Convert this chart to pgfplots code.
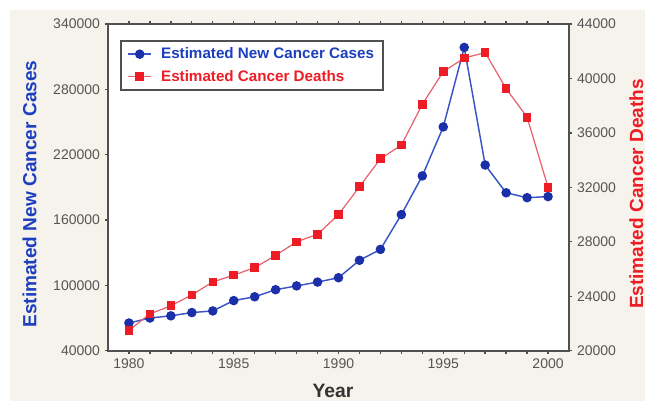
\documentclass[border=0pt]{standalone}
\usepackage{fontspec}
\setmainfont{Liberation Sans}
\usepackage{pgfplots}
\pgfplotsset{compat=1.18}
\definecolor{bgc}{HTML}{F6F3EC}
\definecolor{bluel}{HTML}{3A55C8}
\definecolor{bluem}{HTML}{1B2FA8}
\definecolor{redl}{HTML}{E8606A}
\definecolor{redm}{HTML}{EE1C25}
\definecolor{ylab}{HTML}{1C3FBF}
\definecolor{rlab}{HTML}{EE1C25}
\definecolor{axc}{HTML}{505050}
\definecolor{tickc}{HTML}{555555}
\begin{document}
\begin{tikzpicture}[x=0.75pt,y=0.75pt]
\fill[white] (0,0) rectangle (645,-401);
\fill[bgc] (10,-10) rectangle (645,-401);
\begin{axis}[
  at={(81pt,-18pt)}, anchor=north west,
  scale only axis, width=345.75pt, height=245pt,
  xmin=1979, xmax=2001, ymin=40000, ymax=340000,
  xtick={1980,1985,...,2000}, minor xtick={1980,...,2000},
  ytick={40000,100000,160000,220000,280000,340000},
  tick align=outside, major tick length=2.5pt, minor tick length=2.5pt,
  ytick pos=left,
  scaled y ticks=false,
  yticklabel style={/pgf/number format/fixed,/pgf/number format/1000 sep={}},
  xticklabel style={/pgf/number format/1000 sep={}},
  /pgf/number format/assume math mode=true,
  ticklabel style={font=\fontsize{10.5}{12}\selectfont, text=tickc},
  axis line style={axc, line width=1.5pt},
  tick style={axc, line width=1pt},
  axis background/.style={fill=white},
  legend cell align=left,
  legend image code/.code={\draw[mark repeat=2,mark phase=2] plot coordinates {(0pt,0pt) (8.5pt,0pt) (17pt,0pt)};},
  legend style={at={(0.026,0.951)}, anchor=north west, draw=axc, line width=1.5pt, fill=white,
     font=\bfseries\fontsize{11.4}{13}\selectfont, row sep=3pt, column sep=5pt, inner xsep=5pt, inner ysep=3pt},
]
\addplot[color=bluel, line width=1.1pt, mark=*, mark size=3pt, mark options={fill=bluem, draw=bluem}]
coordinates {
(1980,65400) (1981,70000) (1982,72000) (1983,75000) (1984,76500)
(1985,86000) (1986,89500) (1987,96000) (1988,99500) (1989,103000)
(1990,107000) (1991,123000) (1992,133000) (1993,165000) (1994,200500)
(1995,245500) (1996,318500) (1997,210500) (1998,185000) (1999,180500) (2000,181500)
};
\addlegendentry{\textcolor{ylab}{Estimated New Cancer Cases}}
\addlegendimage{color=redl, line width=0.9pt, mark=square*, mark size=2.75pt, mark options={fill=redm, draw=redm}}
\addlegendentry{\textcolor{rlab}{Estimated Cancer Deaths}}
\end{axis}
\begin{axis}[
  at={(81pt,-18pt)}, anchor=north west,
  scale only axis, width=345.75pt, height=245pt,
  xmin=1979, xmax=2001, ymin=20000, ymax=44000,
  axis x line=none, axis y line*=right,
  ytick={20000,24000,...,44000},
  tick align=outside, major tick length=2.5pt,
  scaled y ticks=false,
  yticklabel style={/pgf/number format/fixed,/pgf/number format/1000 sep={}},
  /pgf/number format/assume math mode=true,
  ticklabel style={font=\fontsize{10.5}{12}\selectfont, text=tickc},
  axis line style={axc, line width=1.5pt, -},
  tick style={axc, line width=1pt},
]
\addplot[color=redl, line width=0.9pt, mark=square*, mark size=2.75pt, mark options={fill=redm, draw=redm}]
coordinates {
(1980,21500) (1981,22700) (1982,23300) (1983,24100) (1984,25050)
(1985,25550) (1986,26100) (1987,27000) (1988,28000) (1989,28550)
(1990,30000) (1991,32050) (1992,34100) (1993,35100) (1994,38100)
(1995,40500) (1996,41500) (1997,41900) (1998,39250) (1999,37150) (2000,32000)
};
\end{axis}
\node[rotate=90, anchor=base, inner sep=0pt, text=ylab, font=\bfseries\fontsize{14.3}{16}\selectfont] at (36.3,-194) {Estimated New Cancer Cases};
\node[rotate=90, anchor=base, inner sep=0pt, text=rlab, font=\bfseries\fontsize{14.3}{16}\selectfont] at (643,-194) {Estimated Cancer Deaths};
\node[anchor=base, inner sep=0pt, text=black!80, font=\bfseries\fontsize{14.5}{16}\selectfont] at (333,-397.5) {Year};
\pgfresetboundingbox
\useasboundingbox (0,0) rectangle (645,-401);
\end{tikzpicture}
\end{document}
